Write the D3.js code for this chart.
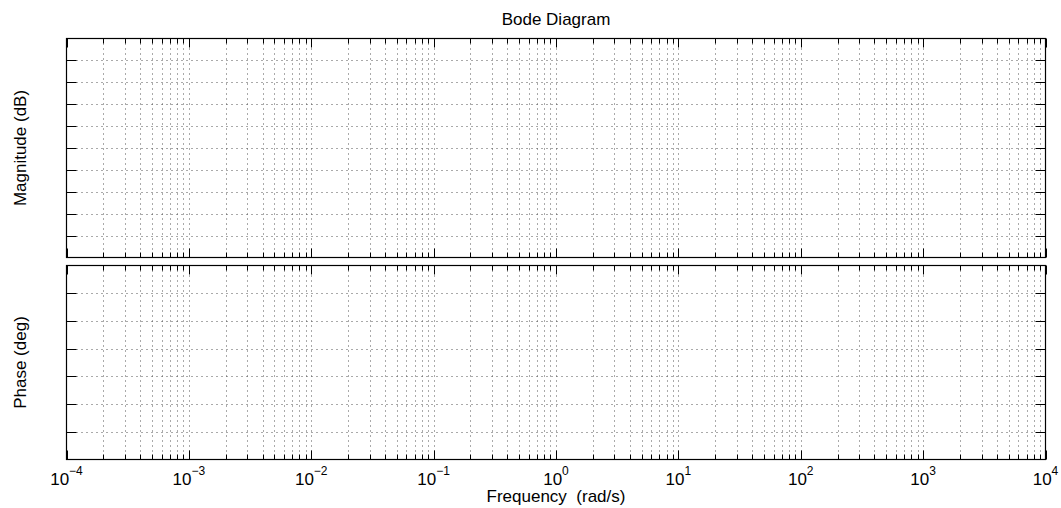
<!DOCTYPE html>
<html><head><meta charset="utf-8">
<script src="https://cdn.jsdelivr.net/npm/d3@7"></script>
<style>
body{margin:0;background:#fff;}
text{font-family:"Liberation Sans",Arial,Helvetica,sans-serif;fill:#000;white-space:pre;}
</style></head>
<body>
<svg id="chart" width="1061" height="508"></svg>
<script>
// ---- data ----
const decadeExponents = [-4,-3,-2,-1,0,1,2,3,4];
const minorMultipliers = [2,3,4,5,6,7,8,9];
const magnitudeTicks = [-90,-80,-70,-60,-50,-40,-30,-20,-10];
const magnitudeDomain = [-100,0];
const phaseTicks = [-270,-225,-180,-135,-90,-45];
const phaseDomain = [-315,0];
const titleText = "Bode Diagram";
const xLabelText = "Frequency  (rad/s)";
const magLabelText = "Magnitude (dB)";
const phaseLabelText = "Phase (deg)";

// ---- layout ----
const left = 66.5, right = 1045.5;
const magTop = 38.5, magBot = 257.5;
const phTop = 265.5, phBot = 459.5;

const svg = d3.select("#chart");
const x = d3.scaleLog().domain([1e-4,1e4]).range([left,right]);
const yMag = d3.scaleLinear().domain(magnitudeDomain).range([magBot,magTop]);
const yPh = d3.scaleLinear().domain(phaseDomain).range([phBot,phTop]);

const majorX = decadeExponents.map(e=>Math.pow(10,e));
const minorX = [];
decadeExponents.slice(0,-1).forEach(e=>minorMultipliers.forEach(m=>minorX.push(m*Math.pow(10,e))));

function panel(y, ticks, top, bot){
  const g = svg.append("g");
  g.selectAll(".vg").data(majorX.concat(minorX).filter(v=>v>1e-4 && v<1e4)).enter().append("line")
    .attr("x1",d=>Math.round(x(d))+0.5).attr("x2",d=>Math.round(x(d))+0.5)
    .attr("y1",top).attr("y2",bot)
    .attr("stroke","#555").attr("stroke-width",1).attr("stroke-dasharray","1,4");
  g.selectAll(".hg").data(ticks).enter().append("line")
    .attr("x1",left).attr("x2",right)
    .attr("y1",d=>Math.round(y(d))+0.5).attr("y2",d=>Math.round(y(d))+0.5)
    .attr("stroke","#555").attr("stroke-width",1).attr("stroke-dasharray","1,4");
  const tick = (vals,len)=>{
    vals.forEach(v=>{
      const xx = Math.round(x(v))+0.5;
      g.append("line").attr("x1",xx).attr("x2",xx).attr("y1",bot).attr("y2",bot-len).attr("stroke","#000");
      g.append("line").attr("x1",xx).attr("x2",xx).attr("y1",top).attr("y2",top+len).attr("stroke","#000");
    });
  };
  tick(majorX,9);
  tick(minorX,5);
  ticks.forEach(v=>{
    const yy = Math.round(y(v))+0.5;
    g.append("line").attr("x1",left).attr("x2",left+10).attr("y1",yy).attr("y2",yy).attr("stroke","#000");
    g.append("line").attr("x1",right).attr("x2",right-10).attr("y1",yy).attr("y2",yy).attr("stroke","#000");
  });
  g.append("rect").attr("x",left).attr("y",top).attr("width",right-left).attr("height",bot-top)
    .attr("fill","none").attr("stroke","#000").attr("stroke-width",1.2);
}
panel(yMag, magnitudeTicks, magTop, magBot);
panel(yPh, phaseTicks, phTop, phBot);

// x tick labels
const lab = svg.append("g");
decadeExponents.forEach(e=>{
  const t = lab.append("text").attr("x",x(Math.pow(10,e))).attr("y",485)
    .attr("text-anchor","middle").style("font-size","17px");
  t.append("tspan").text("10");
  t.append("tspan").attr("dy",-10).style("font-size","12px").text(e<0? "\u2212"+(-e) : String(e));
});

svg.append("text").attr("x",(left+right)/2).attr("y",502).attr("text-anchor","middle")
  .style("font-size","17px").text(xLabelText);
svg.append("text").attr("x",(left+right)/2).attr("y",25).attr("text-anchor","middle")
  .style("font-size","17px").text(titleText);
svg.append("text").attr("transform",`translate(25.5,${(magTop+magBot)/2}) rotate(-90)`)
  .attr("text-anchor","middle").style("font-size","17px").text(magLabelText);
svg.append("text").attr("transform",`translate(25.5,${(phTop+phBot)/2}) rotate(-90)`)
  .attr("text-anchor","middle").style("font-size","17px").text(phaseLabelText);
</script>
</body></html>
